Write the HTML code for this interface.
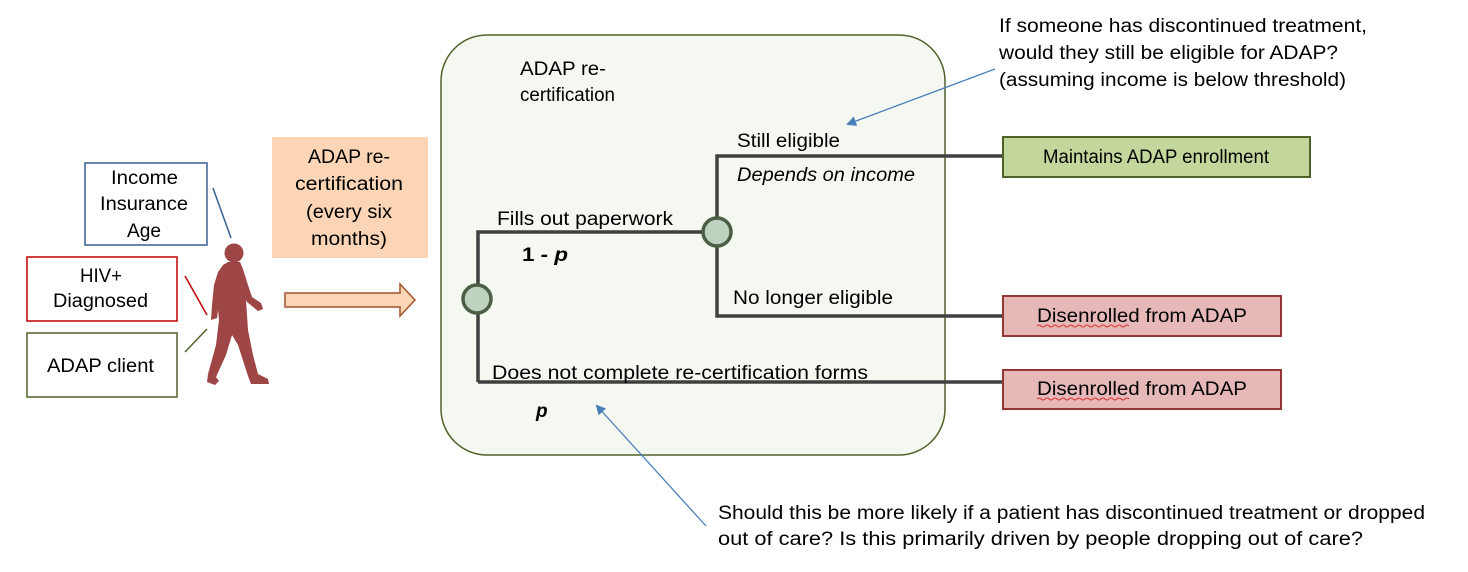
<!DOCTYPE html>
<html><head><meta charset="utf-8"><style>
html,body{margin:0;padding:0;background:#fff;}
svg{display:block;}
text{font-family:"Liberation Sans",sans-serif;font-size:19px;fill:#000;}
</style></head><body>
<svg width="1468" height="572" viewBox="0 0 1468 572" xmlns="http://www.w3.org/2000/svg">
<defs>
<marker id="ah" markerWidth="10" markerHeight="10" refX="8" refY="5" orient="auto" markerUnits="userSpaceOnUse">
<path d="M0,0 L10,5 L0,10 Z" fill="#4a7ebb"/></marker>
</defs>
<rect x="441" y="35" width="504" height="420" rx="46" ry="46" fill="#f5f8f0" stroke="#4f6228" stroke-width="1.5"/>
<text x="520" y="75" textLength="86" lengthAdjust="spacingAndGlyphs">ADAP re-</text>
<text x="520" y="101" textLength="95" lengthAdjust="spacingAndGlyphs">certification</text>
<g stroke="#404040" stroke-width="3.5" fill="none">
<path d="M478,382 L478,232 L717,232"/>
<path d="M1003,156 L717,156 L717,316 L1003,316"/>
<path d="M478,382 L1003,382"/>
</g>
<circle cx="717" cy="232" r="14" fill="#bfd1bf" stroke="#4a5f43" stroke-width="3.5"/>
<circle cx="477" cy="299" r="14" fill="#bfd1bf" stroke="#4a5f43" stroke-width="3.5"/>
<text x="737" y="147" textLength="103" lengthAdjust="spacingAndGlyphs">Still eligible</text>
<text x="737" y="181" font-style="italic" textLength="178" lengthAdjust="spacingAndGlyphs">Depends on income</text>
<text x="497" y="225" textLength="176" lengthAdjust="spacingAndGlyphs">Fills out paperwork</text>
<text x="522" y="261" font-weight="bold" font-size="21" textLength="46" lengthAdjust="spacingAndGlyphs">1 - <tspan font-style="italic">p</tspan></text>
<text x="733" y="304" textLength="160" lengthAdjust="spacingAndGlyphs">No longer eligible</text>
<text x="492" y="379" textLength="376" lengthAdjust="spacingAndGlyphs">Does not complete re-certification forms</text>
<text x="536" y="417" font-weight="bold" font-style="italic" font-size="21">p</text>
<rect x="1003" y="137" width="307" height="40" fill="#c3d69b" stroke="#4f6228" stroke-width="2"/>
<text x="1156" y="163" text-anchor="middle" textLength="226" lengthAdjust="spacingAndGlyphs">Maintains ADAP enrollment</text>
<rect x="1003" y="296" width="278" height="40" fill="#e6b9b8" stroke="#953735" stroke-width="2"/>
<text x="1142" y="322" text-anchor="middle" textLength="210" lengthAdjust="spacingAndGlyphs">Disenrolled from ADAP</text>
<path d="M1037,326 q2,-2 4,0 t4,0 t4,0 t4,0 t4,0 t4,0 t4,0 t4,0 t4,0 t4,0 t4,0 t4,0 t4,0 t4,0 t4,0 t4,0 t4,0 t4,0 t4,0 t4,0 t4,0 t4,0 t4,0" stroke="#e03030" fill="none" stroke-width="1"/>
<rect x="1003" y="370" width="278" height="39" fill="#e6b9b8" stroke="#953735" stroke-width="2"/>
<text x="1142" y="395" text-anchor="middle" textLength="210" lengthAdjust="spacingAndGlyphs">Disenrolled from ADAP</text>
<path d="M1037,399 q2,-2 4,0 t4,0 t4,0 t4,0 t4,0 t4,0 t4,0 t4,0 t4,0 t4,0 t4,0 t4,0 t4,0 t4,0 t4,0 t4,0 t4,0 t4,0 t4,0 t4,0 t4,0 t4,0 t4,0" stroke="#e03030" fill="none" stroke-width="1"/>
<text x="999" y="32" textLength="368" lengthAdjust="spacingAndGlyphs">If someone has discontinued treatment,</text>
<text x="999" y="59" textLength="339" lengthAdjust="spacingAndGlyphs">would they still be eligible for ADAP?</text>
<text x="999" y="86" textLength="347" lengthAdjust="spacingAndGlyphs">(assuming income is below threshold)</text>
<line x1="995" y1="69" x2="848" y2="124" stroke="#4a7ebb" stroke-width="1.3" marker-end="url(#ah)"/>
<text x="718" y="519" textLength="707" lengthAdjust="spacingAndGlyphs">Should this be more likely if a patient has discontinued treatment or dropped</text>
<text x="718" y="545" textLength="645" lengthAdjust="spacingAndGlyphs">out of care? Is this primarily driven by people dropping out of care?</text>
<line x1="706" y1="526" x2="597" y2="406" stroke="#4a7ebb" stroke-width="1.3" marker-end="url(#ah)"/>
<rect x="85" y="163" width="122" height="82" fill="#fff" stroke="#376092" stroke-width="1.5"/>
<text x="111" y="184" textLength="67" lengthAdjust="spacingAndGlyphs">Income</text>
<text x="100" y="210" textLength="88" lengthAdjust="spacingAndGlyphs">Insurance</text>
<text x="127" y="237" textLength="34" lengthAdjust="spacingAndGlyphs">Age</text>
<rect x="27" y="257" width="150" height="64" fill="#fff" stroke="#c00000" stroke-width="1.5"/>
<text x="80" y="282" textLength="42" lengthAdjust="spacingAndGlyphs">HIV+</text>
<text x="53" y="307" textLength="95" lengthAdjust="spacingAndGlyphs">Diagnosed</text>
<rect x="27" y="333" width="150" height="64" fill="#fff" stroke="#4f6228" stroke-width="1.5"/>
<text x="47" y="372" textLength="107" lengthAdjust="spacingAndGlyphs">ADAP client</text>
<line x1="213" y1="188" x2="231" y2="238" stroke="#376092" stroke-width="1.5"/>
<line x1="185" y1="276" x2="207" y2="315" stroke="#c00000" stroke-width="1.5"/>
<line x1="185" y1="352" x2="207" y2="329" stroke="#4f6228" stroke-width="1.5"/>
<g fill="#9e4545">
<circle cx="234" cy="253" r="9.5"/>
<path d="M228,262 L240,262 L243,269 L247,282 L252,297 L261,303 L263,309 L258,311 L247,302 L246,300 L248,330 L253,355 L258,374 L268,379 L269,384 L251,384 L248,376 L238,345 L232,335 L226,355 L216,377 L219,381 L215,385 L207,382 L208,374 L216,345 L219,320 L218,310 L217,318 L211,320 L212,305 L214,285 L218,272 L223,265 Z"/>
</g>
<rect x="272" y="137" width="156" height="121" fill="#fbd5b5"/>
<text x="308" y="163" textLength="82" lengthAdjust="spacingAndGlyphs">ADAP re-</text>
<text x="295" y="190" textLength="108" lengthAdjust="spacingAndGlyphs">certification</text>
<text x="306" y="218" textLength="86" lengthAdjust="spacingAndGlyphs">(every six</text>
<text x="311" y="245" textLength="76" lengthAdjust="spacingAndGlyphs">months)</text>
<path d="M285,293 L400,293 L400,284 L415,300 L400,316 L400,307 L285,307 Z" fill="#fbd5b5" stroke="#a0522d" stroke-width="1.5"/>
</svg>
</body></html>
